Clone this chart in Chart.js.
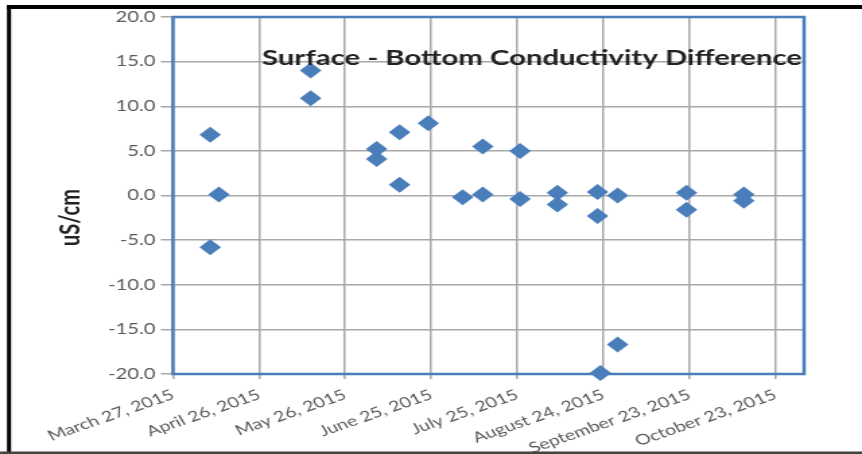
<!DOCTYPE html>
<html>
<head>
<meta charset="utf-8">
<script src="https://cdn.jsdelivr.net/npm/chart.js@4/dist/chart.umd.min.js"></script>
<style>
  html, body { margin: 0; padding: 0; background: #fff; overflow: hidden; }
  #wrap { width: 640px; height: 454px; transform: scaleX(1.346875); transform-origin: 0 0; }
</style>
</head>
<body>
<div id="wrap"><canvas id="chart" width="640" height="454"></canvas></div>
<script>
// Axis labels along the date axis (every 30 days from March 27, 2015)
const tickDates = ['March 27, 2015', 'April 26, 2015', 'May 26, 2015', 'June 25, 2015',
  'July 25, 2015', 'August 24, 2015', 'September 23, 2015', 'October 23, 2015'];

// Sampling dates and surface-minus-bottom conductivity difference (uS/cm)
const sampleDates = [
  '2015-04-09', '2015-04-09', '2015-04-12',
  '2015-05-14', '2015-05-14',
  '2015-06-06', '2015-06-06', '2015-06-14', '2015-06-14', '2015-06-24',
  '2015-07-06', '2015-07-13', '2015-07-13', '2015-07-26', '2015-07-26',
  '2015-08-08', '2015-08-08', '2015-08-22', '2015-08-22', '2015-08-23',
  '2015-08-29', '2015-08-29',
  '2015-09-22', '2015-09-22',
  '2015-10-12', '2015-10-12'
];
const conductivityDiff = [
  6.8, -5.8, 0.1,
  14.0, 10.9,
  5.2, 4.1, 7.1, 1.2, 8.1,
  -0.2, 0.1, 5.5, 5.0, -0.4,
  0.3, -1.0, 0.4, -2.3, -19.9,
  0.0, -16.7,
  0.3, -1.6,
  0.1, -0.6
];

const chartTitle = 'Surface - Bottom Conductivity Difference';
const yTitle = 'uS/cm';

const origin = Date.UTC(2015, 2, 27);
const dayOf = d => (Date.parse(d + 'T00:00:00Z') - origin) / 86400000;
const points = sampleDates.map((d, i) => ({ x: dayOf(d), y: conductivityDiff[i] }));

const BLUE = '#4A7EBB';
const GRID = '#a8a8a8';
const TICK_TEXT = '#5a5a5a';

const frame = {
  id: 'frame',
  beforeDraw(chart) {
    const { ctx, width, height } = chart;
    ctx.save();
    ctx.fillStyle = '#ffffff';
    ctx.fillRect(0, 0, width, height);
    ctx.restore();
  },
  beforeDatasetsDraw(chart) {
    const { ctx, chartArea: a } = chart;
    ctx.save();
    ctx.strokeStyle = BLUE;
    ctx.lineWidth = 2.5;
    ctx.strokeRect(a.left, a.top, a.right - a.left, a.bottom - a.top);
    ctx.restore();
  },
  afterDraw(chart) {
    const { ctx, width, height } = chart;
    ctx.save();
    // outer frame
    ctx.fillStyle = '#000';
    ctx.fillRect(5.2, 5, width, 4);
    ctx.fillRect(5.2, 5, 3, height);
    ctx.fillStyle = '#444';
    ctx.fillRect(0, height - 2.5, width, 2.5);

    // chart title inside the plot area
    ctx.fillStyle = '#222';
    ctx.textBaseline = 'alphabetic';
    ctx.textAlign = 'left';
    ctx.font = 'bold 20px Lato';
    const w = ctx.measureText(chartTitle).width;
    const size = 20 * 401 / w;
    ctx.font = `bold ${size.toFixed(2)}px Lato`;
    ctx.fillText(chartTitle, 194.5, 65);

    // value axis title
    ctx.translate(58.5, 217.5);
    ctx.rotate(-Math.PI / 2);
    ctx.textAlign = 'center';
    ctx.font = 'bold 20px Lato';
    ctx.fillText(yTitle, 0, 0);
    ctx.restore();
  }
};

new Chart(document.getElementById('chart'), {
  type: 'scatter',
  data: {
    datasets: [{
      data: points,
      pointStyle: 'rectRot',
      pointRadius: 8,
      pointHoverRadius: 8,
      backgroundColor: BLUE,
      borderColor: BLUE,
      borderWidth: 0,
      clip: false
    }]
  },
  options: {
    responsive: false,
    animation: false,
    events: [],
    layout: { padding: { left: 0, right: 43, top: 17, bottom: 0 } },
    plugins: { legend: { display: false }, title: { display: false }, tooltip: { enabled: false } },
    scales: {
      x: {
        type: 'linear',
        min: 0,
        max: 220,
        border: { display: false },
        grid: { color: GRID, lineWidth: 1.5, tickLength: 5, drawTicks: true },
        ticks: {
          stepSize: 30,
          includeBounds: false,
          autoSkip: false,
          maxRotation: 25,
          minRotation: 25,
          padding: 7,
          color: TICK_TEXT,
          font: { family: 'Lato', size: 14.5 },
          callback: (v, i) => tickDates[i]
        },
        afterFit(scale) { scale.height = 80; }
      },
      y: {
        min: -20,
        max: 20,
        border: { display: false },
        grid: { color: GRID, lineWidth: 1.5, tickLength: 9, drawTicks: true },
        ticks: {
          stepSize: 5,
          padding: 4,
          color: TICK_TEXT,
          font: { family: 'Lato', size: 15 },
          callback: v => v.toFixed(1)
        },
        afterFit(scale) { scale.width = 128.4; }
      }
    }
  },
  plugins: [frame]
});
</script>
</body>
</html>
